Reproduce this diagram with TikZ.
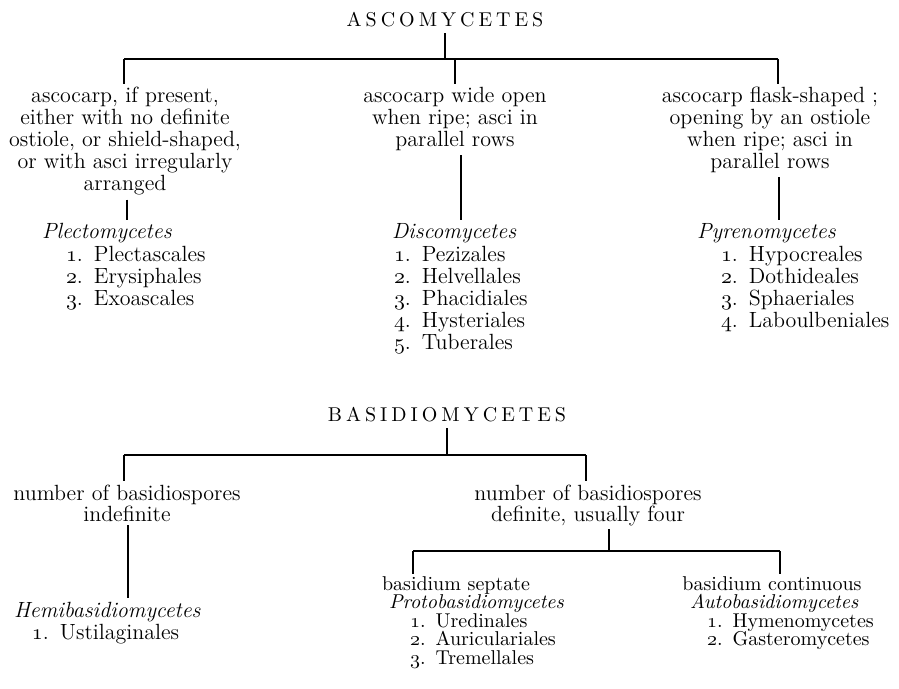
\documentclass[tikz,border=0pt]{standalone}
\usepackage{fontspec}
\newcommand\osn[1]{$\mathnormal{#1}$}
\makeatletter
\newcommand\tracked[2]{\def\tr@k{#1}\@tfor\tr@c:=#2\do{\tr@c\kern\tr@k}\unkern}
\makeatother
\tikzset{
  txt/.style={inner sep=0pt, outer sep=2pt, font=\fontsize{11}{11}\selectfont},
  ital/.style={inner sep=0pt, outer sep=2pt, font=\fontsize{11}{11}\selectfont\itshape},
  stxt/.style={inner sep=0pt, outer sep=1pt, font=\fontsize{10}{10}\selectfont},
  sital/.style={inner sep=0pt, outer sep=1pt, font=\fontsize{10}{10}\selectfont\itshape},
  ttl/.style={inner sep=0pt, outer sep=3pt, font=\fontsize{10}{10}\selectfont},
  ln/.style={line width=0.7pt},
}
\begin{document}
\begin{tikzpicture}[x=0.5pt,y=-0.5pt]
\useasboundingbox (0,0) rectangle (899,689);
% ---------------- ASCOMYCETES ----------------
\node[ttl, anchor=base] (asco) at (445,27) {\tracked{2pt}{ASCOMYCETES}};
\coordinate (h1L) at (124,59);
\coordinate (h1M) at (455,59);
\coordinate (h1R) at (778,59);
% left block
\node[txt, anchor=base] (a1) at (125,103) {ascocarp, if present,};
\node[txt, anchor=base] (a2) at (125,125) {either with no definite};
\node[txt, anchor=base] (a3) at (125,147) {ostiole, or shield-shaped,};
\node[txt, anchor=base] (a4) at (125,169) {or with asci irregularly};
\node[txt, anchor=base] (a5) at (125,191) {arranged};
\node[ital, anchor=base west] (plecto) at (38,239) {Plectomycetes};
\node[txt, anchor=base west] (pl1) at (62,262) {\osn{1}.\enspace Plectascales};
\node[txt, anchor=base west] (pl2) at (62,284) {\osn{2}.\enspace Erysiphales};
\node[txt, anchor=base west] (pl3) at (62,306) {\osn{3}.\enspace Exoascales};
% middle block
\node[txt, anchor=base] (m1) at (455,103) {ascocarp wide open};
\node[txt, anchor=base] (m2) at (455,125) {when ripe; asci in};
\node[txt, anchor=base] (m3) at (455,147) {parallel rows};
\node[ital, anchor=base west] (disco) at (388,239) {Discomycetes};
\node[txt, anchor=base west] (d1) at (390,262) {\osn{1}.\enspace Pezizales};
\node[txt, anchor=base west] (d2) at (390,284) {\osn{2}.\enspace Helvellales};
\node[txt, anchor=base west] (d3) at (390,306) {\osn{3}.\enspace Phacidiales};
\node[txt, anchor=base west] (d4) at (390,328) {\osn{4}.\enspace Hysteriales};
\node[txt, anchor=base west] (d5) at (390,350) {\osn{5}.\enspace Tuberales};
% right block
\node[txt, anchor=base] (r1) at (770,103) {ascocarp flask-shaped ;};
\node[txt, anchor=base] (r2) at (770,125) {opening by an ostiole};
\node[txt, anchor=base] (r3) at (770,147) {when ripe; asci in};
\node[txt, anchor=base] (r4) at (770,169) {parallel rows};
\node[ital, anchor=base west] (pyreno) at (693,239) {Pyrenomycetes};
\node[txt, anchor=base west] (py1) at (717,262) {\osn{1}.\enspace Hypocreales};
\node[txt, anchor=base west] (py2) at (717,284) {\osn{2}.\enspace Dothideales};
\node[txt, anchor=base west] (py3) at (717,306) {\osn{3}.\enspace Sphaeriales};
\node[txt, anchor=base west] (py4) at (717,328) {\osn{4}.\enspace Laboulbeniales};
% connectors
\draw[ln] (asco.south) -- (asco.south |- h1L);
\draw[ln] (h1L) -- (h1R);
\draw[ln] (h1L) -- (h1L |- a1.north);
\draw[ln] (h1M) -- (h1M |- m1.north);
\draw[ln] (h1R) -- (h1R |- r1.north);
\coordinate (av) at ([xshift=1pt]a5.south);
\draw[ln] (av) -- (av |- plecto.north);
\coordinate (mv) at ([xshift=3pt]m3.south);
\draw[ln] (mv) -- (mv |- disco.north);
\coordinate (rv) at ([xshift=4.5pt]r4.south);
\draw[ln] (rv) -- (rv |- pyreno.north);
% ---------------- BASIDIOMYCETES ----------------
\node[ttl, anchor=base] (basi) at (447,422) {\tracked{2pt}{BASIDIOMYCETES}};
\coordinate (h2L) at (124,455);
\coordinate (h2R) at (586,455);
\node[txt, anchor=base] (b1) at (127,500) {number of basidiospores};
\node[txt, anchor=base] (b2) at (127,521) {indefinite};
\node[ital, anchor=base west] (hemi) at (10,617) {Hemibasidiomycetes};
\node[txt, anchor=base west] (he1) at (28,639) {\osn{1}.\enspace Ustilaginales};
\node[txt, anchor=base] (c1) at (588,500) {number of basidiospores};
\node[txt, anchor=base] (c2) at (588,521) {definite, usually four};
\coordinate (h3L) at (413,551);
\coordinate (h3R) at (780,551);
\node[stxt, anchor=base] (s1) at (456,590) {basidium septate};
\node[sital, anchor=base west] (proto) at (387,608.5) {Protobasidiomycetes};
\node[stxt, anchor=base west] (pr1) at (408,627) {\osn{1}.\enspace Uredinales};
\node[stxt, anchor=base west] (pr2) at (408,645.5) {\osn{2}.\enspace Auriculariales};
\node[stxt, anchor=base west] (pr3) at (408,664) {\osn{3}.\enspace Tremellales};
\node[stxt, anchor=base] (k1) at (772,590) {basidium continuous};
\node[sital, anchor=base west] (auto) at (688,608.5) {Autobasidiomycetes};
\node[stxt, anchor=base west] (au1) at (705,627) {\osn{1}.\enspace Hymenomycetes};
\node[stxt, anchor=base west] (au2) at (705,645.5) {\osn{2}.\enspace Gasteromycetes};
% connectors
\draw[ln] (basi.south) -- (basi.south |- h2L);
\draw[ln] (h2L) -- (h2R);
\draw[ln] (h2L) -- (h2L |- b1.north);
\draw[ln] (h2R) -- (h2R |- c1.north);
\coordinate (bv) at ([xshift=0.5pt]b2.south);
\draw[ln] (bv) -- (bv |- hemi.north);
\coordinate (cv) at ([xshift=10.5pt]c2.south);
\draw[ln] (cv) -- (cv |- h3L);
\draw[ln] (h3L) -- (h3R);
\draw[ln] (h3L) -- (h3L |- s1.north);
\draw[ln] (h3R) -- (h3R |- k1.north);
\end{tikzpicture}
\end{document}
